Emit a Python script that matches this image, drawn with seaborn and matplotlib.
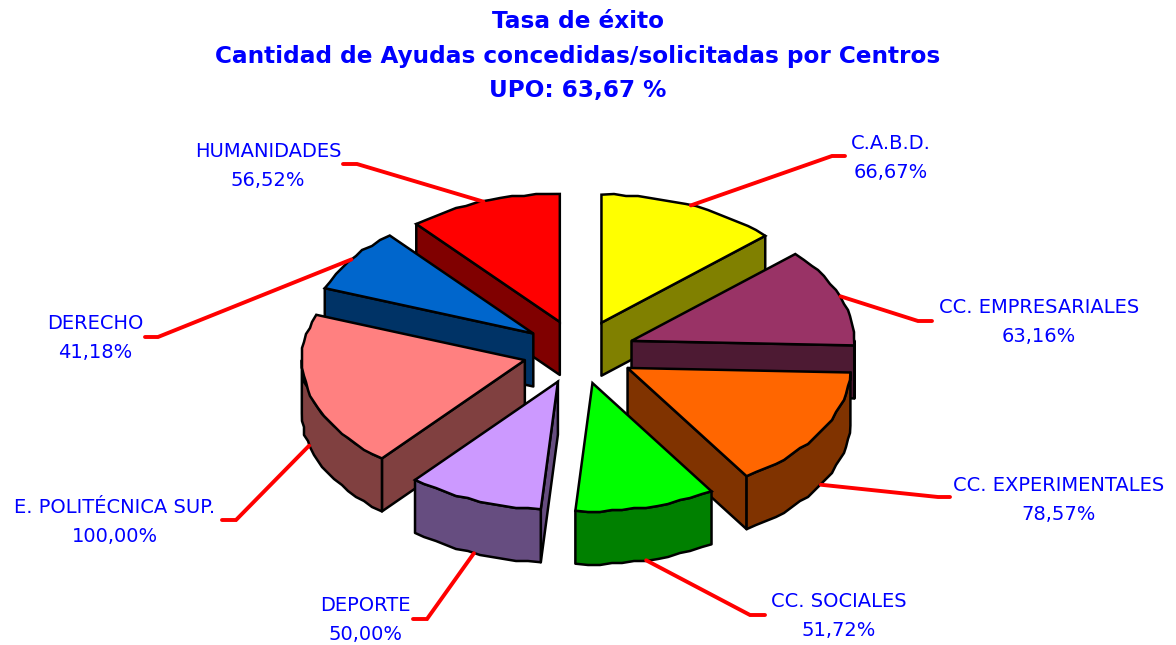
import numpy as np
import matplotlib
matplotlib.use("Agg")
import matplotlib.pyplot as plt
import matplotlib.colors as mc
import seaborn as sns

# --- data ---
categories = ["C.A.B.D.", "CC. EMPRESARIALES", "CC. EXPERIMENTALES", "CC. SOCIALES",
              "DEPORTE", "E. POLITÉCNICA SUP.", "DERECHO", "HUMANIDADES"]
rates = [66.67, 63.16, 78.57, 51.72, 50.00, 100.00, 41.18, 56.52]
colors = ["#FFFF00", "#993366", "#FF6600", "#00FF00", "#CC99FF", "#FF8080", "#0066CC", "#FF0000"]
title_lines = ["Tasa de éxito", "Cantidad de Ayudas concedidas/solicitadas por Centros", "UPO: 63,67 %"]

# --- layout ---
label_xy = [(891, 158), (1039, 322), (1059, 500), (839, 616), (365, 620), (115, 522), (95, 338), (268, 166)]
elbows = [((832, 156), (845, 156)), ((918, 321), (932, 321)), ((938, 497), (950, 497)), ((750, 615), (765, 615)),
          ((427, 619), (413, 619)), ((236, 520), (222, 520)), ((158, 337), (145, 337)), ((357, 164), (343, 164))]
CX, CY, RX, RY, EX, EY, DEPTH = 579, 352, 223, 128, 56, 32, 53
GRID = 2.0  # the reference's rim is a slightly stepped polyline
EDGE = 1.8

sns.set_theme(style="white")
plt.rcParams["font.family"] = ["DejaVu Sans"]
fig = plt.figure(figsize=(11.76, 6.45), dpi=100)
ax = fig.add_axes([0, 0, 1, 1])
ax.set_xlim(0, 1176)
ax.set_ylim(645, 0)
ax.axis("off")


def darker(c):
    return tuple(0.5 * v for v in mc.to_rgb(c))


vals = np.array(rates)
edges = np.concatenate([[0], np.cumsum(vals / vals.sum() * 2 * np.pi)])
mids = (edges[:-1] + edges[1:]) / 2


def rim(apex, a):
    a = np.asarray(a)
    return apex[0] + RX * np.sin(a), apex[1] - RY * np.cos(a)


def stepped_arc(apex, a0, a1):
    n = max(2, int(np.degrees(a1 - a0) / 3.0) + 1)
    x, y = rim(apex, np.linspace(a0, a1, n))
    x[1:-1] = np.round(x[1:-1] / GRID) * GRID
    y[1:-1] = np.round(y[1:-1] / GRID) * GRID
    return x, y


def wall(xs, ys, color):
    xs, ys = np.asarray(xs), np.asarray(ys)
    px = np.concatenate([xs, xs[::-1]])
    py = np.concatenate([ys, ys[::-1] + DEPTH])
    ax.fill(px, py, facecolor=darker(color), edgecolor="black", lw=EDGE, joinstyle="round")


anchors = {}
for i in np.argsort(-np.cos(mids)):
    a0, a1, m, col = edges[i], edges[i + 1], mids[i], colors[i]
    apex = (CX + EX * np.sin(m), CY - EY * np.cos(m))
    ax_, ay_ = stepped_arc(apex, a0, a1)
    # radial walls, only the faces that look towards the viewer
    if np.sin(a0) < -1e-3:
        x, y = rim(apex, a0)
        wall([apex[0], x], [apex[1], y], col)
    if np.sin(a1) > 1e-3:
        x, y = rim(apex, a1)
        wall([apex[0], x], [apex[1], y], col)
    # outer curved wall: front half of the rim
    f0, f1 = max(a0, np.pi / 2), min(a1, 3 * np.pi / 2)
    if f1 > f0:
        fx, fy = stepped_arc(apex, f0, f1)
        wall(fx, fy, col)
    ax.fill(np.r_[apex[0], ax_], np.r_[apex[1], ay_], facecolor=col, edgecolor="black", lw=EDGE)
    x, y = rim(apex, m)
    anchors[i] = (x, y + (DEPTH if np.cos(m) < 0 else 0))

for i, cat in enumerate(categories):
    e1, e2 = elbows[i]
    ax.plot([anchors[i][0], e1[0], e2[0]], [anchors[i][1], e1[1], e2[1]], color="#FF0000", lw=2.8,
            solid_joinstyle="miter", zorder=5)
    text = cat + "\n" + f"{rates[i]:.2f}".replace(".", ",") + "%"
    ax.text(label_xy[i][0], label_xy[i][1], text, ha="center", va="center", color="#0000FF",
            fontsize=14, linespacing=1.62, zorder=6)

for y, line in zip([22, 56, 90], title_lines):
    ax.text(578, y, line, ha="center", va="center", color="#0000FF", fontsize=16.7, fontweight="bold")

sns.despine(ax=ax, left=True, bottom=True)
fig.savefig("out.png", dpi=100, facecolor="white")
